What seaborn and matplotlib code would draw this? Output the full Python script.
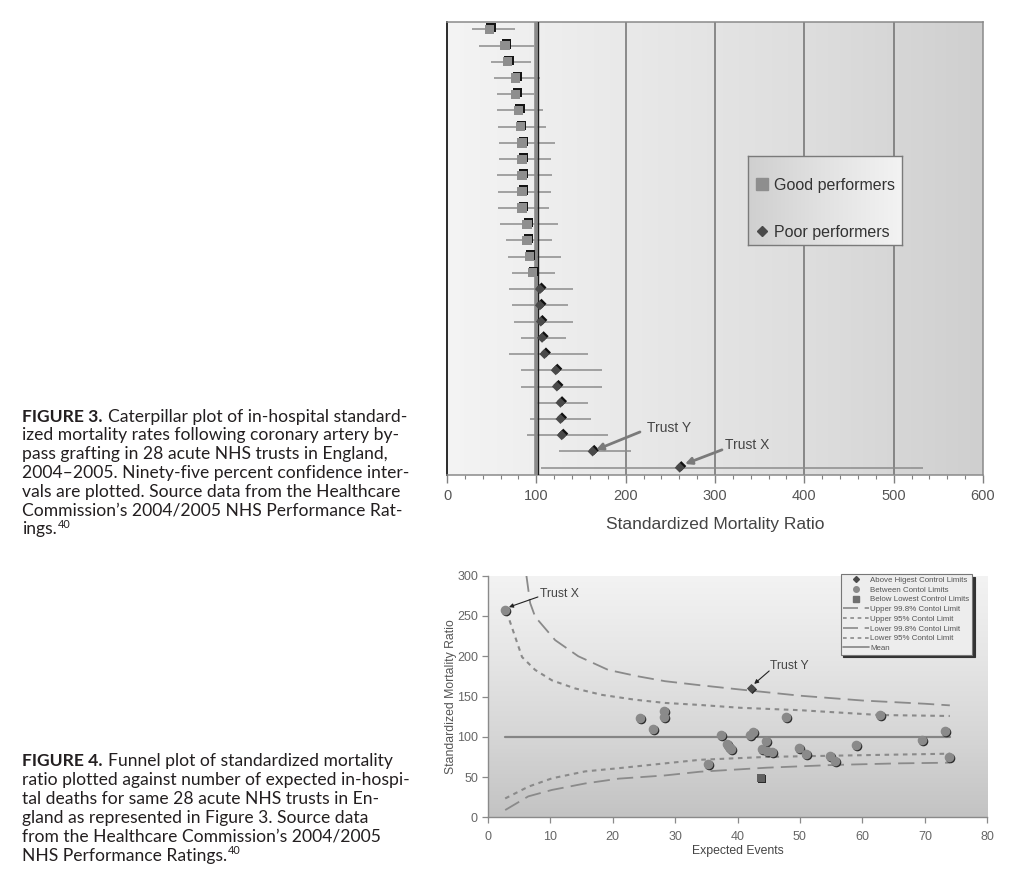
import numpy as np
import pandas as pd
import matplotlib
matplotlib.use("Agg")
import matplotlib.pyplot as plt
import matplotlib.transforms as mtransforms
from matplotlib.lines import Line2D
from matplotlib.colors import LinearSegmentedColormap
from matplotlib.ticker import MultipleLocator
import seaborn as sns

# ---------------- DATA: Figure 3 (caterpillar) ----------------
smr = [47.4, 65, 67.5, 77, 77, 80, 82, 84, 84, 84, 84, 84, 89.6, 89.6, 92, 95.5,
       104, 104, 105, 106.4, 109, 121.7, 123, 127, 127, 128.4, 163, 260.5]
ci_low = [28.4, 36, 49, 52.6, 56, 56, 57, 58.4, 58, 56, 57, 57, 59.5, 66, 68, 72.8,
          69.4, 72.8, 75, 83, 69.4, 83, 83, 101, 93, 89.6, 125.7, 105.6]
ci_high = [76, 97, 94, 104, 97, 107, 111, 121, 116, 117, 116, 114, 124, 117, 128, 120.6,
           140.7, 135, 140.7, 133, 157.5, 174, 173, 157.5, 161, 180, 205.7, 533]
group = ["Good performers"] * 16 + ["Poor performers"] * 12
mean_smr = 100
grid_x = [200, 300, 400, 500]
top_ticks = [0, 100, 200, 300, 400, 500, 600]

# ---------------- DATA: Figure 4 (funnel) ----------------
between_x = [2.7, 24.4, 26.5, 28.3, 28.2, 35.3, 37.3, 38.3, 38.6, 39.0, 42.0, 42.5, 44.6,
             43.9, 44.7, 45.5, 47.7, 49.8, 51.0, 54.8, 55.6, 58.9, 62.8, 69.6, 73.2, 73.9]
between_y = [257.6, 123.8, 109.3, 132, 125, 66, 102.5, 91, 87, 85, 102.5, 106, 94.4,
             84.5, 82.7, 80.7, 125, 86.5, 78, 76.5, 69.5, 89.3, 127, 96, 107.6, 75.2]
above_x = [42.2]
above_y = [160.9]
below_x = [43.8]
below_y = [48.4]

up998_x = [6.2, 6.8, 7.6, 10.8, 14.5, 19.3, 24.1, 28.4, 34, 40, 45, 50, 55, 60, 65, 70, 74]
up998_y = [300, 266, 249, 220, 200, 183, 175, 169, 164, 159, 155, 151, 148, 145, 143, 141, 139]
up95_x = [2.9, 3.3, 4.4, 5.5, 7.6, 10.3, 14, 18.3, 23.6, 28.4, 34, 40.4, 50, 62.8, 74]
up95_y = [255, 249, 224, 199, 183, 170, 160, 152, 146, 142, 139.5, 136, 133, 127, 125.8]
lo998_x = [2.8, 6.5, 10.3, 15.6, 21, 28.4, 34, 44.7, 55.4, 66, 74]
lo998_y = [9, 26, 34, 42, 48, 52, 56.6, 61.6, 65, 67, 67.8]
lo95_x = [2.8, 6.5, 10.3, 15.6, 21, 28.4, 34, 44.7, 55.4, 74]
lo95_y = [23.4, 38, 48.4, 57, 61, 67, 71.4, 75, 76.5, 79]
mean_x = [2.8, 74]
mean_y = [100, 100]

legend4_labels = ["Above Higest Control Limits", "Between Contol Limits",
                  "Below Lowest Control Limits", "Upper 99.8% Contol Limit",
                  "Upper 95% Contol Limit", "Lower 99.8% Contol Limit",
                  "Lower 95% Contol Limit", "Mean"]

cap3 = [
    [("FIGURE 3.", "bold", False), (" Caterpillar plot of in-hospital standard-", "normal", False)],
    [("ized mortality rates following coronary artery by-", "normal", False)],
    [("pass grafting in 28 acute NHS trusts in England,", "normal", False)],
    [("2004\u20132005. Ninety-five percent confidence inter-", "normal", False)],
    [("vals are plotted. Source data from the Healthcare", "normal", False)],
    [("Commission\u2019s 2004/2005 NHS Performance Rat-", "normal", False)],
    [("ings.", "normal", False), ("40", "normal", True)],
]
cap4 = [
    [("FIGURE 4.", "bold", False), (" Funnel plot of standardized mortality", "normal", False)],
    [("ratio plotted against number of expected in-hospi-", "normal", False)],
    [("tal deaths for same 28 acute NHS trusts in En-", "normal", False)],
    [("gland as represented in Figure 3. Source data", "normal", False)],
    [("from the Healthcare Commission\u2019s 2004/2005", "normal", False)],
    [("NHS Performance Ratings.", "normal", False), ("40", "normal", True)],
]

# ---------------- STYLE ----------------
sns.set_theme(style="white")
plt.rcParams["font.family"] = ["Liberation Sans", "DejaVu Sans"]
CAPFONT = ["Lato", "DejaVu Sans"]

W, H = 1027, 875
fig = plt.figure(figsize=(W / 100, H / 100), dpi=100)
fig.patch.set_facecolor("white")


def fx(px):
    return px / W


def fy(py):
    return 1 - py / H


# ================= Figure 3 =================
ax1 = fig.add_axes([fx(447), fy(475), (983 - 447) / W, (475 - 22) / H])
rank = list(range(1, len(smr) + 1))
df1 = pd.DataFrame({"smr": smr, "lo": ci_low, "hi": ci_high, "rank": rank, "group": group})

grad_h = np.linspace(0, 1, 256).reshape(1, -1)
cm1 = LinearSegmentedColormap.from_list("g1", ["#f4f4f4", "#e9e9e9", "#dedede", "#cfcfcf"])
ax1.imshow(grad_h, extent=[0, 600, 28.45, 0.55], aspect="auto", cmap=cm1, zorder=0)

for v in grid_x:
    ax1.axvline(v, color="#707070", lw=1.1, zorder=1)

ax1.hlines(df1["rank"], df1["lo"], df1["hi"], color="#8c8c8c", lw=1.1, zorder=2)

ax1.axvline(mean_smr, color="#8a8a8a", lw=2.6, zorder=3)
off_line = mtransforms.offset_copy(ax1.transData, fig=fig, x=1.2, y=0, units="dots")
ax1.add_line(Line2D([mean_smr, mean_smr], [0, 1], color="#1a1a1a", lw=1.0, zorder=3,
                    transform=mtransforms.blended_transform_factory(off_line, ax1.transAxes)))

markers1 = {"Good performers": "s", "Poor performers": "D"}
sizes1 = {"Good performers": 44, "Poor performers": 26}
shadow = mtransforms.offset_copy(ax1.transData, fig=fig, x=1.6, y=1.6, units="dots")
sns.scatterplot(data=df1, x="smr", y="rank", hue="group", style="group", size="group",
                markers=markers1, sizes=sizes1,
                palette={"Good performers": "#151515", "Poor performers": "#111111"},
                linewidth=0, ax=ax1, zorder=4, legend=False, transform=shadow)
sns.scatterplot(data=df1, x="smr", y="rank", hue="group", style="group", size="group",
                markers=markers1, sizes=sizes1,
                palette={"Good performers": "#8e8e8e", "Poor performers": "#4a4a4a"},
                linewidth=0, ax=ax1, zorder=5, legend=False)

ax1.set_xlim(0, 600)
ax1.set_ylim(28.45, 0.55)
ax1.set_yticks([])
ax1.set_xticks(top_ticks)
ax1.xaxis.set_minor_locator(MultipleLocator(20))
ax1.tick_params(axis="x", which="major", bottom=True, length=6, width=1, color="#808080",
                labelsize=10.5, labelcolor="#555555", pad=4)
ax1.tick_params(axis="x", which="minor", bottom=True, length=3, width=0.8, color="#808080")
for s in ["top", "right", "bottom"]:
    ax1.spines[s].set_color("#8a8a8a")
    ax1.spines[s].set_linewidth(1.1)
ax1.spines["left"].set_color("#1a1a1a")
ax1.spines["left"].set_linewidth(1.3)
ax1.set_xlabel("Standardized Mortality Ratio", fontsize=12.5, color="#444444", labelpad=10)
ax1.set_ylabel("")

# annotations
ax1.annotate("", xy=(166.8, 26.9), xytext=(216.0, 25.8),
             arrowprops=dict(arrowstyle="-|>", color="#7a7a7a", lw=2.0, mutation_scale=10,
                             shrinkA=0, shrinkB=0), zorder=6)
ax1.text(223.9, 25.55, "Trust Y", fontsize=10, color="#444444", va="center", ha="left", zorder=6)
ax1.annotate("", xy=(266.4, 27.77), xytext=(307.8, 26.9),
             arrowprops=dict(arrowstyle="-|>", color="#7a7a7a", lw=2.0, mutation_scale=10,
                             shrinkA=0, shrinkB=0), zorder=6)
ax1.text(311.2, 26.6, "Trust X", fontsize=10, color="#444444", va="center", ha="left", zorder=6)

# legend box with gradient
axl = fig.add_axes([fx(748), fy(245), (902 - 748) / W, (245 - 156) / H], zorder=3)
cml = LinearSegmentedColormap.from_list("gl", ["#cfcfcf", "#e2e2e2", "#f3f3f3"])
axl.imshow(grad_h, extent=[0, 1, 0, 1], aspect="auto", cmap=cml)
axl.set_xlim(0, 1)
axl.set_ylim(0, 1)
axl.set_xticks([])
axl.set_yticks([])
for s in axl.spines.values():
    s.set_color("#7a7a7a")
    s.set_linewidth(1.0)
h1 = [Line2D([], [], marker="s", ls="", color="#8e8e8e", ms=8.5),
      Line2D([], [], marker="D", ls="", color="#4a4a4a", ms=5)]
leg1 = fig.legend(handles=h1, labels=["Good performers", "Poor performers"],
                  loc="center", bbox_to_anchor=(fx(825), fy(209)), frameon=False,
                  fontsize=11.5, labelspacing=2.0, handlelength=0.8, handletextpad=0.35,
                  labelcolor="#333333")
leg1.set_zorder(10)

# ================= Figure 4 =================
ax2 = fig.add_axes([fx(487.7), fy(817.3), (987.3 - 487.7) / W, (817.3 - 575.7) / H])
grad_v = np.linspace(0, 1, 256).reshape(-1, 1)
cm2 = LinearSegmentedColormap.from_list("g2", ["#c3c3c3", "#d6d6d6", "#e6e6e6", "#f3f3f3"])
ax2.imshow(grad_v, extent=[0, 80, 0, 300], origin="lower", aspect="auto", cmap=cm2, zorder=0)

line_col = "#8a8a8a"
long_dash = (0, (9, 4))
short_dash = (0, (2.2, 2.2))
sns.lineplot(x=up998_x, y=up998_y, ax=ax2, color=line_col, linewidth=1.3, linestyle=long_dash,
             estimator=None, sort=False, legend=False, zorder=2)
sns.lineplot(x=up95_x, y=up95_y, ax=ax2, color=line_col, linewidth=1.5, linestyle=short_dash,
             estimator=None, sort=False, legend=False, zorder=2)
sns.lineplot(x=lo998_x, y=lo998_y, ax=ax2, color=line_col, linewidth=1.3, linestyle=long_dash,
             estimator=None, sort=False, legend=False, zorder=2)
sns.lineplot(x=lo95_x, y=lo95_y, ax=ax2, color=line_col, linewidth=1.5, linestyle=short_dash,
             estimator=None, sort=False, legend=False, zorder=2)
sns.lineplot(x=mean_x, y=mean_y, ax=ax2, color="#858585", linewidth=1.6,
             estimator=None, sort=False, legend=False, zorder=2)

sh2 = mtransforms.offset_copy(ax2.transData, fig=fig, x=1.0, y=-1.0, units="dots")
for xs, ys, mk, col, sz in [(between_x, between_y, "o", "#8a8a8a", 48),
                            (above_x, above_y, "D", "#4a4a4a", 22),
                            (below_x, below_y, "s", "#606060", 34)]:
    sns.scatterplot(x=xs, y=ys, ax=ax2, marker=mk, color="#2a2a2a", s=sz, linewidth=0,
                    zorder=3, transform=sh2, legend=False)
    sns.scatterplot(x=xs, y=ys, ax=ax2, marker=mk, color=col, s=sz, linewidth=0,
                    zorder=4, legend=False)

ax2.set_xlim(0, 80)
ax2.set_ylim(0, 300)
ax2.set_xticks(range(0, 81, 10))
ax2.set_yticks(range(0, 301, 50))
ax2.tick_params(axis="both", which="major", length=4, width=0.9, color="#8a8a8a",
                labelsize=9, labelcolor="#666666", bottom=True, left=True, pad=3)
ax2.tick_params(axis="x", pad=6)
for s in ["top", "right"]:
    ax2.spines[s].set_visible(False)
for s in ["left", "bottom"]:
    ax2.spines[s].set_color("#8a8a8a")
    ax2.spines[s].set_linewidth(1.0)
ax2.set_xlabel("Expected Events", fontsize=8.8, color="#444444", labelpad=1)
ax2.set_ylabel("Standardized Mortality Ratio", fontsize=8.8, color="#555555", labelpad=0)

ax2.annotate("", xy=(3.4, 261), xytext=(8.04, 273.6),
             arrowprops=dict(arrowstyle="-|>", color="#222222", lw=0.8, mutation_scale=6,
                             shrinkA=0, shrinkB=0), zorder=6)
ax2.text(8.37, 277.4, "Trust X", fontsize=8.8, color="#444444", va="center", ha="left")
ax2.annotate("", xy=(42.67, 165.6), xytext=(45.07, 181.7),
             arrowprops=dict(arrowstyle="-|>", color="#222222", lw=0.8, mutation_scale=6,
                             shrinkA=0, shrinkB=0), zorder=6)
ax2.text(45.2, 188, "Trust Y", fontsize=8.8, color="#444444", va="center", ha="left")

h2 = [Line2D([], [], marker="D", ls="", color="#4a4a4a", ms=3),
      Line2D([], [], marker="o", ls="", color="#8a8a8a", ms=4),
      Line2D([], [], marker="s", ls="", color="#707070", ms=4),
      Line2D([], [], ls=long_dash, color=line_col, lw=1.2),
      Line2D([], [], ls=short_dash, color=line_col, lw=1.2),
      Line2D([], [], ls=long_dash, color=line_col, lw=1.2),
      Line2D([], [], ls=short_dash, color=line_col, lw=1.2),
      Line2D([], [], ls="-", color="#858585", lw=1.2)]
leg2 = ax2.legend(handles=h2, labels=legend4_labels, loc="upper right",
                  bbox_to_anchor=(0.969, 1.007), fontsize=5.7, frameon=True, fancybox=False,
                  shadow={"color": "#333333", "alpha": 1.0}, edgecolor="#777777",
                  facecolor="#ededed", framealpha=1, labelspacing=0.28, handlelength=3.3,
                  handletextpad=0.15, borderpad=0.3, borderaxespad=0, labelcolor="#555555")
leg2.get_frame().set_linewidth(0.8)

# ================= Captions =================
renderer = fig.canvas.get_renderer()
CAP_SIZE = 12.6


def draw_caption(lines, y0, dy):
    for i, parts in enumerate(lines):
        x = 22.0
        y = y0 + i * dy
        for txt, weight, sup in parts:
            size = CAP_SIZE * 0.62 if sup else CAP_SIZE
            yy = y - (6 if sup else 0)
            lead = len(txt) - len(txt.lstrip(" "))
            body = txt.lstrip(" ")
            if lead:
                a = fig.text(0, 0, "a a", fontsize=size, family=CAPFONT)
                b = fig.text(0, 0, "aa", fontsize=size, family=CAPFONT)
                x += (a.get_window_extent(renderer).width - b.get_window_extent(renderer).width) * lead
                a.remove()
                b.remove()
            t = fig.text(fx(x), fy(yy), body, fontsize=size, fontweight=weight,
                         family=CAPFONT, color="#231f20", va="baseline", ha="left")
            x += t.get_window_extent(renderer).width + (1 if sup is False else 0)


draw_caption(cap3, 421.5, 18.8)
draw_caption(cap4, 766.0, 18.9)

fig.savefig("out.png", dpi=100, facecolor="white")
